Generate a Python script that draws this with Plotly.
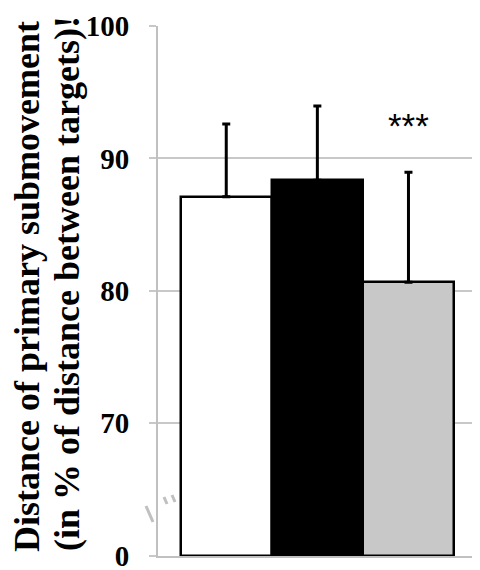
import plotly.graph_objects as go

# Data
conditions = ["Condition 1", "Condition 2", "Condition 3"]
means = [87.1, 88.35, 80.65]
errors_plus = [5.5, 5.6, 8.3]
bar_colors = ["#ffffff", "#000000", "#c8c8c8"]
tick_values = [60, 70, 80, 90, 100]
tick_labels = ["0", "70", "80", "90", "100"]
significance = ["", "", "***"]

OFF = 8  # page body margin
W, H = 480, 570
# desired plot area in viewport pixels: x 158..480, y 26..556
ML = 158 - OFF
MT = 26 - OFF
MB = H - (556 - OFF)
MR = W - (480 - OFF)
PW, PH = W - ML - MR, H - MT - MB

def px_x(px):
    return (px - OFF - ML) / PW

def px_y(py):
    return (H - MB - (py - OFF)) / PH

serif = "Liberation Serif, Times New Roman, Times, serif"

fig = go.Figure()
fig.add_trace(go.Bar(
    x=conditions,
    y=[m - 60 for m in means],
    base=60,
    width=1.0,
    marker=dict(color=bar_colors, line=dict(color="black", width=2.5)),
    error_y=dict(type="data", symmetric=False, array=errors_plus,
                 arrayminus=[0, 0, 0], color="black", thickness=3, width=4),
    showlegend=False,
))

for c, m, e, s in zip(conditions, means, errors_plus, significance):
    if s:
        fig.add_annotation(x=c, y=92.45, text=s, showarrow=False,
                           xanchor="center", yanchor="middle",
                           font=dict(family="Liberation Sans, Arial, sans-serif", size=35, color="black"))

fig.add_annotation(xref="paper", yref="paper", x=px_x(27), y=px_y(287),
                   text="Distance of primary submovement", textangle=-90,
                   showarrow=False, xanchor="center", yanchor="middle",
                   font=dict(family=serif, size=36, color="black", weight="bold"))
fig.add_annotation(xref="paper", yref="paper", x=px_x(67), y=px_y(284),
                   text="(in % of distance between targets)!", textangle=-90,
                   showarrow=False, xanchor="center", yanchor="middle",
                   font=dict(family=serif, size=36, color="black", weight="bold"))

# axis break marks
gray = "#c0c0c0"
for (x0, y0, x1, y1) in [(146, 506, 153, 522), (164, 497, 167, 504), (172, 495, 175, 502)]:
    fig.add_shape(type="line", xref="paper", yref="paper",
                  x0=px_x(x0), y0=px_y(y0), x1=px_x(x1), y1=px_y(y1),
                  line=dict(color=gray, width=3), layer="above")

fig.update_xaxes(type="category", range=[-0.749, 2.785], showticklabels=False,
                 showgrid=False, showline=True, linecolor=gray, linewidth=2,
                 ticks="", zeroline=False, automargin=False)
fig.update_yaxes(range=[59.98, 100], tickvals=tick_values, ticktext=tick_labels,
                 showgrid=True, gridcolor="#c8c8c8", gridwidth=2,
                 showline=True, linecolor=gray, linewidth=2,
                 ticks="outside", ticklen=7, tickcolor="#c8c8c8", tickwidth=2,
                 ticklabelstandoff=14, zeroline=False, automargin=False,
                 ticklabeloverflow="allow",
                 tickfont=dict(family=serif, size=29, color="black", weight="bold"))

fig.update_layout(width=W, height=H, margin=dict(l=ML, r=MR, t=MT, b=MB),
                  paper_bgcolor="white", plot_bgcolor="white", bargap=0)

fig.write_html("out.html")
